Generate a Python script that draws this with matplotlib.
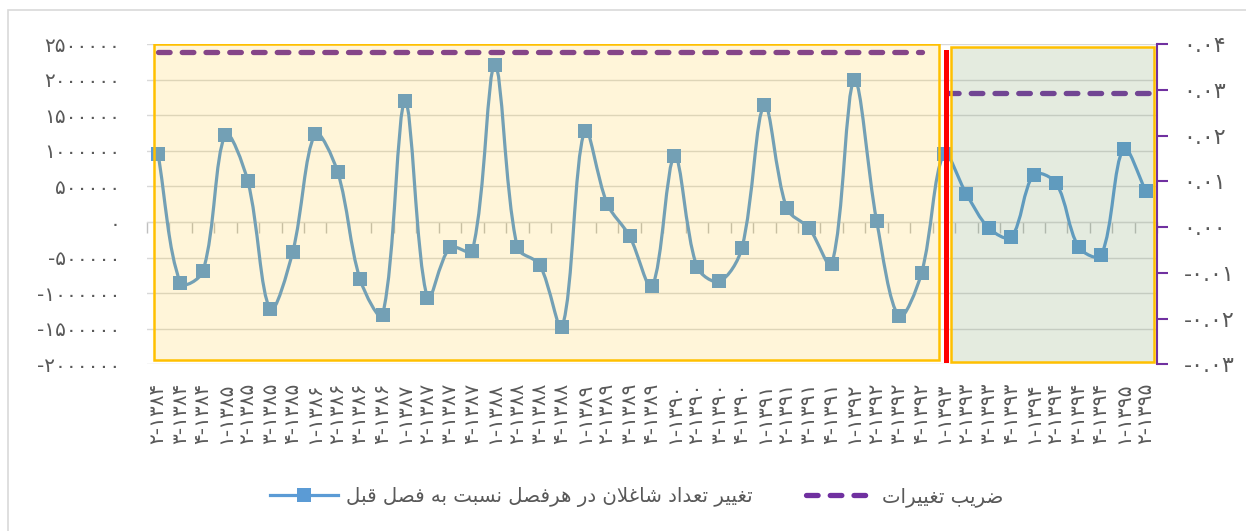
import numpy as np
import matplotlib.pyplot as plt
from matplotlib.path import Path
from matplotlib.patches import PathPatch, Rectangle
from matplotlib.lines import Line2D

# quarter labels (quarter-year, as they read on the rotated axis)
quarter_labels = [
    "۲-۱۳۸۴", "۳-۱۳۸۴", "۴-۱۳۸۴",
    "۱-۱۳۸۵", "۲-۱۳۸۵", "۳-۱۳۸۵", "۴-۱۳۸۵",
    "۱-۱۳۸۶", "۲-۱۳۸۶", "۳-۱۳۸۶", "۴-۱۳۸۶",
    "۱-۱۳۸۷", "۲-۱۳۸۷", "۳-۱۳۸۷", "۴-۱۳۸۷",
    "۱-۱۳۸۸", "۲-۱۳۸۸", "۳-۱۳۸۸", "۴-۱۳۸۸",
    "۱-۱۳۸۹", "۲-۱۳۸۹", "۳-۱۳۸۹", "۴-۱۳۸۹",
    "۱-۱۳۹۰", "۲-۱۳۹۰", "۳-۱۳۹۰", "۴-۱۳۹۰",
    "۱-۱۳۹۱", "۲-۱۳۹۱", "۳-۱۳۹۱", "۴-۱۳۹۱",
    "۱-۱۳۹۲", "۲-۱۳۹۲", "۳-۱۳۹۲", "۴-۱۳۹۲",
    "۱-۱۳۹۳", "۲-۱۳۹۳", "۳-۱۳۹۳", "۴-۱۳۹۳",
    "۱-۱۳۹۴", "۲-۱۳۹۴", "۳-۱۳۹۴", "۴-۱۳۹۴",
    "۱-۱۳۹۵", "۲-۱۳۹۵",
]

# change in number of employed vs previous quarter
employment_change = [
    956000, -857000, -694000, 1228000, 572000, -1223000, -417000, 1237000, 703000, -806000,
    -1303000, 1696000, -1068000, -356000, -403000, 2202000, -356000, -600000, -1471000, 1284000,
    258000, -197000, -904000, 923000, -628000, -834000, -366000, 1640000, 192000, -89000,
    -595000, 1992000, 19000, -1326000, -717000, 956000, 394000, -84000, -211000, 665000,
    544000, -351000, -469000, 1031000, 431000,
]

# coefficient of variation, before / after the break
n_before = 35
cv_before = [0.0382] * n_before
cv_after = [0.0293] * (len(quarter_labels) - n_before)

label_change = "تغییر تعداد شاغلان در هرفصل نسبت به فصل قبل"
label_cv = "ضریب تغییرات"

# --- minimal persian shaping (matplotlib has no complex text layout) ---
FORMS = {
    'ا': ('\uFE8D', '\uFE8E', None, None),
    'ب': ('\uFE8F', '\uFE90', '\uFE91', '\uFE92'),
    'ت': ('\uFE95', '\uFE96', '\uFE97', '\uFE98'),
    'د': ('\uFEA9', '\uFEAA', None, None),
    'ر': ('\uFEAD', '\uFEAE', None, None),
    'س': ('\uFEB1', '\uFEB2', '\uFEB3', '\uFEB4'),
    'ش': ('\uFEB5', '\uFEB6', '\uFEB7', '\uFEB8'),
    'ص': ('\uFEB9', '\uFEBA', '\uFEBB', '\uFEBC'),
    'ض': ('\uFEBD', '\uFEBE', '\uFEBF', '\uFEC0'),
    'ع': ('\uFEC9', '\uFECA', '\uFECB', '\uFECC'),
    'غ': ('\uFECD', '\uFECE', '\uFECF', '\uFED0'),
    'ف': ('\uFED1', '\uFED2', '\uFED3', '\uFED4'),
    'ق': ('\uFED5', '\uFED6', '\uFED7', '\uFED8'),
    'ل': ('\uFEDD', '\uFEDE', '\uFEDF', '\uFEE0'),
    'ن': ('\uFEE5', '\uFEE6', '\uFEE7', '\uFEE8'),
    'ه': ('\uFEE9', '\uFEEA', '\uFEEB', '\uFEEC'),
    'ی': ('\uFBFC', '\uFBFD', '\uFBFE', '\uFBFF'),
}


def shape(text):
    out = []
    i = 0
    n = len(text)
    while i < n:
        c = text[i]
        if c not in FORMS:
            out.append(c)
            i += 1
            continue
        prev = text[i - 1] if i > 0 else ''
        nxt = text[i + 1] if i + 1 < n else ''
        after = prev in FORMS and FORMS[prev][2] is not None
        if c == 'ل' and nxt == 'ا':
            out.append('\uFEFC' if after else '\uFEFB')
            i += 2
            continue
        before = FORMS[c][2] is not None and nxt in FORMS
        iso, fin, ini, med = FORMS[c]
        if after and before:
            out.append(med)
        elif after:
            out.append(fin)
        elif before:
            out.append(ini)
        else:
            out.append(iso)
        i += 1
    return ''.join(reversed(out))


def fa_digits(s):
    return s.translate(str.maketrans('0123456789', '۰۱۲۳۴۵۶۷۸۹'))


plt.rcParams['font.family'] = ['DejaVu Sans']
text_color = '#595959'
blue = '#5B9BD5'
purple = '#7030A0'

fig = plt.figure(figsize=(12.46, 5.31), dpi=100)
ax = fig.add_axes([0.1178, 0.3136, 0.8110, 0.6035])
ax2 = ax.twinx()

x = np.arange(len(employment_change))
y = np.array(employment_change, dtype=float)

ax.set_xlim(-0.5, len(x) - 0.5)
ax.set_ylim(-2000000, 2500000)

# smoothed line, bezier built in screen space (tangents scaled by segment length)
disp = ax.transData.transform(np.column_stack([x, y]))
ext = np.vstack([disp[0], disp, disp[-1]])
verts = [disp[0]]
codes = [Path.MOVETO]
for k in range(len(disp) - 1):
    p0, p1, p2, p3 = ext[k], ext[k + 1], ext[k + 2], ext[k + 3]
    d01 = np.hypot(*(p1 - p0))
    d12 = np.hypot(*(p2 - p1))
    d23 = np.hypot(*(p3 - p2))
    c1 = p1 + (p2 - p0) / 3.0 * d12 / (d01 + d12)
    c2 = p2 - (p3 - p1) / 3.0 * d12 / (d12 + d23)
    verts += [c1, c2, p2]
    codes += [Path.CURVE4] * 3
verts = ax.transData.inverted().transform(np.array(verts))
ax.add_patch(PathPatch(Path(verts, codes), fill=False, edgecolor=blue, lw=2.3, zorder=3))
ax.plot(x, y, 's', color=blue, ms=9.5, mew=0, zorder=4)

yt = np.arange(-2000000, 2500001, 500000)
ax.set_yticks(yt)
ax.set_yticklabels([fa_digits(str(int(v))) for v in yt])
ax.tick_params(axis='y', length=0, pad=19, labelsize=14.5, labelcolor=text_color)
ax.grid(axis='y', color='#D9D9D9', lw=1)
ax.set_axisbelow(True)
for s in ax.spines.values():
    s.set_visible(False)

ax.set_xticks(x)
ax.set_xticklabels(quarter_labels, rotation=90, va='top', ha='center')
ax.tick_params(axis='x', length=0, pad=13, labelsize=14.5, labelcolor=text_color)

# category axis line at zero with boundary tick marks
zax = ax.secondary_xaxis(0, transform=ax.transData)
zax.set_xticks(np.arange(-0.5, len(x), 1.0))
zax.tick_params(axis='x', direction='out', length=8, width=1, color='#BFBFBF', labelbottom=False)
zax.spines['bottom'].set_color('#BFBFBF')

# secondary axis: coefficient of variation
ax2.plot(np.arange(n_before), cv_before, color=purple, lw=3.8, dashes=(2.2, 2.3),
         dash_capstyle='round', zorder=2)
ax2.plot(np.arange(n_before, len(x)) + 0.15, cv_after, color=purple, lw=3.8, dashes=(2.2, 2.3),
         dash_capstyle='round', zorder=2)
ax2.set_ylim(-0.03, 0.04)
rt = np.arange(-0.03, 0.0401, 0.01)
ax2.set_yticks(rt)
ax2.set_yticklabels([fa_digits(f"{v:.2f}".replace('-0.00', '0.00')) for v in rt])
ax2.tick_params(axis='y', direction='out', length=8, width=1.5, color=purple, pad=11,
                labelsize=16, labelcolor=text_color)
for side in ['left', 'top', 'bottom']:
    ax2.spines[side].set_visible(False)
ax2.spines['right'].set_color(purple)
ax2.spines['right'].set_linewidth(1.5)

# highlighted periods
ax2.add_patch(Rectangle((-0.18, -1940000), n_before - 0.22 + 0.18, 4440000,
                        transform=ax.transData, facecolor='#FFC000', alpha=0.15,
                        edgecolor='none', zorder=5))
ax2.add_patch(Rectangle((-0.18, -1940000), n_before - 0.22 + 0.18, 4440000,
                        transform=ax.transData, facecolor='none', edgecolor='#FFC000',
                        lw=1.8, zorder=6))
ax2.add_patch(Rectangle((n_before + 0.31, -1970000), len(x) - 1 + 0.37 - n_before - 0.31, 4435000,
                        transform=ax.transData, facecolor=(0.47, 0.61, 0.39), alpha=0.2,
                        edgecolor='none', zorder=5))
ax2.add_patch(Rectangle((n_before + 0.31, -1970000), len(x) - 1 + 0.37 - n_before - 0.31, 4435000,
                        transform=ax.transData, facecolor='none', edgecolor='#FFC000',
                        lw=1.8, zorder=6))
ax2.add_line(Line2D([n_before + 0.08, n_before + 0.08], [-1940000, 2390000],
                    transform=ax.transData, color='#FF0000', lw=3.6, zorder=7))

# legend
h1 = Line2D([], [], color=blue, lw=2.3, marker='s', ms=9.5, mew=0)
h2 = Line2D([], [], color=purple, lw=3.8, dashes=(2.2, 2.3), dash_capstyle='round')
fig.legend([h1, h2], [shape(label_change), shape(label_cv)], loc='center',
           bbox_to_anchor=(637 / 1246, 1 - 497 / 531), ncol=2, frameon=False,
           fontsize=14.2, labelcolor=text_color, handlelength=3.45, columnspacing=2.7,
           handletextpad=0.4)

# chart area border
fig.patches.append(Rectangle((8 / 1246, -0.1), 1.2, 1.1 - 10 / 531,
                             transform=fig.transFigure, facecolor='none',
                             edgecolor='#D9D9D9', lw=1.2))

fig.savefig("out.png", dpi=100)
